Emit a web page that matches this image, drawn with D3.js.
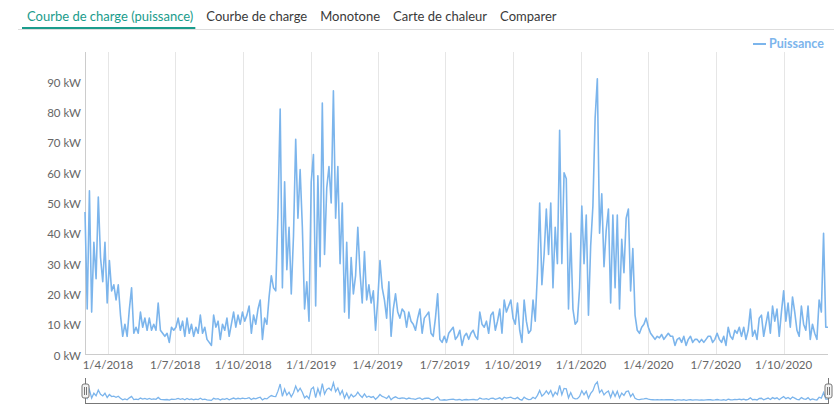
<!DOCTYPE html>
<html>
<head>
<meta charset="utf-8">
<script src="https://cdn.jsdelivr.net/npm/d3@7.9.0/dist/d3.min.js"></script>
<style>
  body { margin: 0; background: #fff; }
  svg { display: block; font-family: Lato, "Open Sans", sans-serif; }
</style>
</head>
<body>
<svg id="chart" width="834" height="405"></svg>
<script>
// tabs above the chart
const tabs = ['Courbe de charge (puissance)', 'Courbe de charge', 'Monotone', 'Carte de chaleur', 'Comparer'];
const seriesName = 'Puissance';

// one reading every 3 days from 1 March 2018 (kW)
const startDate = Date.UTC(2018, 2, 1);
const stepDays = 3;
const power = [
  47,15,54,14,37,25,52,32,24,37,
  17,31,21,23,18,23,13,6,10,6,
  15,22,7,9,7,14,9,12,8,12,
  8,10,8,17,8,7,6,7,4,9,
  8,9,12,8,11,6,12,7,10,6,
  9,7,13,7,9,5,4,3,13,9,
  11,5,10,8,12,6,10,14,9,13,
  10,14,11,13,16,7,13,10,15,18,
  5,12,10,19,26,22,21,47,81,22,
  57,28,42,20,39,71,45,61,42,15,
  24,11,57,66,16,59,29,83,33,55,
  62,50,87,45,62,30,50,14,37,12,
  32,20,26,42,27,17,34,18,23,17,
  21,8,18,31,22,18,12,24,6,15,
  20,14,12,15,14,9,14,11,10,8,
  12,15,7,12,13,14,7,6,12,20,
  5,4,6,4,7,8,9,5,6,8,
  3,6,7,5,7,8,6,5,14,10,
  9,11,7,13,14,8,11,15,7,18,
  14,16,18,12,10,17,8,4,18,11,
  7,8,18,11,27,50,23,33,48,33,
  50,22,42,30,74,30,60,58,15,40,
  15,10,11,22,49,30,46,13,36,49,
  78,91,40,53,29,41,48,17,46,22,
  46,15,38,27,45,48,21,35,13,8,
  7,9,10,12,9,7,6,5,6,5.5,
  6.6,5,6,7,6,6,3,5,5.5,4,
  6,3,5,6,4,5,5,4,5,4,
  5,6,6,4,5,7,5,4,6,3,
  9,6,5,8,7,9,6,9,5,8,
  15,6,8,5,12,13,6,10,14,7,
  16,11,15,6,14,21,11,17,9,19,
  14,8,6,16,10,8,16,5,10,7,
  5,18,14,40,9,9
];
const yTicks = [0, 10, 20, 30, 40, 50, 60, 70, 80, 90];

const data = power.map((v, i) => ({ date: new Date(startDate + i * stepDays * 864e5), value: v }));

const svg = d3.select('#chart');
const color = '#7cb5ec';

// tabs
let tx = 27;
tabs.forEach((t, i) => {
  const el = svg.append('text')
    .attr('x', tx).attr('y', 21)
    .attr('font-size', 13)
    .attr('fill', i === 0 ? '#1a9c8c' : '#3a3a3a')
    .text(t);
  const w = el.node().getComputedTextLength();
  if (i === 0) {
    svg.append('line').attr('x1', 22).attr('x2', tx + w + 2).attr('y1', 28).attr('y2', 28)
      .attr('stroke', '#1a9c8c').attr('stroke-width', 2);
  }
  tx += w + 13;
});
svg.append('line').attr('x1', 18).attr('x2', 834).attr('y1', 29.5).attr('y2', 29.5)
  .attr('stroke', '#ddd');

// scales
const x = d3.scaleUtc()
  .domain([data[0].date, data[data.length - 1].date])
  .range([85, 828]);
const y = d3.scaleLinear().domain([0, 100]).range([354.5, 51.5]);

const fmt = d => `${d.getUTCDate()}/${d.getUTCMonth() + 1}/${d.getUTCFullYear()}`;
const xTicks = d3.utcMonth.every(3).range(x.domain()[0], x.domain()[1]);

// vertical grid
svg.append('g').selectAll('line').data(xTicks).join('line')
  .attr('x1', d => Math.round(x(d)) + 0.5).attr('x2', d => Math.round(x(d)) + 0.5)
  .attr('y1', 52).attr('y2', 354.5)
  .attr('stroke', '#e6e6e6');

// axes lines
svg.append('line').attr('x1', 85.5).attr('x2', 85.5).attr('y1', 52).attr('y2', 355)
  .attr('stroke', '#ccc');
svg.append('line').attr('x1', 85).attr('x2', 828).attr('y1', 354.5).attr('y2', 354.5)
  .attr('stroke', '#ccc');

// y labels
svg.append('g').selectAll('text').data(yTicks).join('text')
  .attr('x', 81).attr('y', d => y(d) + 5)
  .attr('text-anchor', 'end').attr('font-size', 11.5).attr('fill', '#666')
  .text(d => `${d} kW`);

// x labels
svg.append('g').selectAll('text').data(xTicks).join('text')
  .attr('x', d => x(d)).attr('y', 369)
  .attr('text-anchor', 'middle').attr('font-size', 11.5).attr('fill', '#666')
  .text(fmt);

// series
const line = d3.line().x(d => x(d.date)).y(d => y(d.value));
svg.append('path').datum(data)
  .attr('d', line)
  .attr('fill', 'none').attr('stroke', color).attr('stroke-width', 1.6)
  .attr('stroke-linejoin', 'round');

// legend
svg.append('line').attr('x1', 753).attr('x2', 766).attr('y1', 44).attr('y2', 44)
  .attr('stroke', color).attr('stroke-width', 2);
svg.append('text').attr('x', 769).attr('y', 48)
  .attr('font-size', 12.5).attr('font-weight', 'bold').attr('fill', color)
  .text(seriesName);

// navigator
const yNav = d3.scaleLinear().domain([0, 100]).range([401, 380]);
const navLine = d3.line().x(d => x(d.date)).y(d => yNav(d.value));
svg.append('path').datum(data)
  .attr('d', navLine)
  .attr('fill', 'none').attr('stroke', color).attr('stroke-width', 1.3);

svg.append('line').attr('x1', 85).attr('x2', 828).attr('y1', 403.5).attr('y2', 403.5)
  .attr('stroke', '#777');
[85, 828].forEach(hx => {
  svg.append('line').attr('x1', hx + 0.5).attr('x2', hx + 0.5).attr('y1', 378).attr('y2', 404)
    .attr('stroke', '#777');
  svg.append('rect').attr('x', hx - 3).attr('y', 384).attr('width', 7).attr('height', 14)
    .attr('rx', 2).attr('fill', '#f2f2f2').attr('stroke', '#777');
  [hx - 0.5, hx + 1.5].forEach(lx => {
    svg.append('line').attr('x1', lx).attr('x2', lx).attr('y1', 387).attr('y2', 395)
      .attr('stroke', '#777');
  });
});
</script>
</body>
</html>
